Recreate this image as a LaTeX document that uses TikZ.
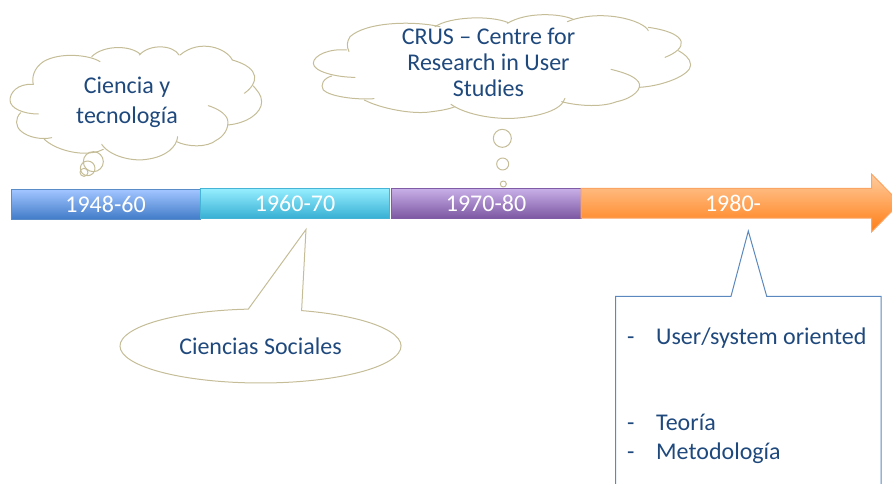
\documentclass[tikz,border=0pt]{standalone}
\usepackage{fontspec}
\setmainfont{Carlito}
\definecolor{tan}{HTML}{C4BD97}
\definecolor{ink}{HTML}{1F497D}
\definecolor{boxline}{HTML}{5B88BE}
\tikzset{
  cloudline/.style={draw=tan,line width=1pt,line join=round,line cap=round},
  barlabel/.style={text=white,font=\fontsize{24}{28}\selectfont,inner sep=0pt},
  inklabel/.style={text=ink,align=center,inner sep=0pt},
  listlabel/.style={text=ink,anchor=base west,font=\fontsize{24}{28}\selectfont,inner sep=0pt},
}
\begin{document}
\begin{tikzpicture}[x=1pt,y=1pt,yscale=-1]
\useasboundingbox (0,0) rectangle (892,484);
\begin{scope}
\clip (0,0) rectangle (892,484);
% timeline bars
\path[top color={rgb,255:red,160;green,196;blue,255},bottom color={rgb,255:red,66;green,124;blue,200},draw={rgb,255:red,90;green,140;blue,200},line width=1pt]
  (11,190) rectangle (200.5,219);
\path[top color={rgb,255:red,150;green,238;blue,255},bottom color={rgb,255:red,56;green,176;blue,212},draw={rgb,255:red,70;green,180;blue,212},line width=1pt]
  (200.5,188.5) rectangle (389.5,218);
\path[top color={rgb,255:red,200;green,176;blue,232},bottom color={rgb,255:red,124;green,86;blue,162},draw={rgb,255:red,128;green,92;blue,166},line width=1pt]
  (391,188.5) rectangle (581,218.5);
\path[top color={rgb,255:red,255;green,205;blue,160},bottom color={rgb,255:red,255;green,125;blue,20},draw={rgb,255:red,250;green,165;blue,100},line width=1pt]
  (581,188.5) -- (871.5,188.5) -- (871.5,174) -- (900,203) -- (871.5,232) -- (871.5,218) -- (581,218) -- cycle;
% rectangular callout
\draw[boxline,line width=1pt,line join=miter]
  (615.7,490) -- (615.7,296.3) -- (731,296.3) -- (748.3,231) -- (766.7,296.3) -- (881,296.3) -- (881,490);
\end{scope}
% oval callout
\draw[cloudline,line join=miter] (301.6,310.6) arc[start angle=-73,end angle=265,x radius=140.5,y radius=37] -- (306,229.5) -- cycle;
% first cloud
\begin{scope}[shift={(0,40)},scale=1/3]
\draw[cloudline] (100,133) .. controls (50,130) and (30,160) .. (30,180) .. controls (30,205) and (70,222) .. (115,222);
\draw[cloudline] (62,218) .. controls (45,235) and (45,260) .. (65,275) .. controls (85,292) and (125,300) .. (155,293);
\draw[cloudline] (133,298) .. controls (165,328) and (230,345) .. (275,338) .. controls (290,336) and (300,334) .. (310,328);
\draw[cloudline] (305,313) .. controls (330,350) and (400,365) .. (440,358) .. controls (500,350) and (530,320) .. (533,290);
\draw[cloudline] (530,305) .. controls (560,320) and (620,325) .. (650,300) .. controls (670,290) and (688,265) .. (683,240) .. controls (678,220) and (650,205) .. (625,197);
\draw[cloudline] (683,255) .. controls (740,250) and (785,220) .. (785,185) .. controls (785,165) and (770,150) .. (760,138);
\draw[cloudline] (733,160) .. controls (775,130) and (785,85) .. (697,60);
\draw[cloudline] (697,60) .. controls (680,25) and (600,-5) .. (540,45);
\draw[cloudline] (537,45) .. controls (520,15) and (450,10) .. (418,45);
\draw[cloudline] (420,42) .. controls (390,15) and (310,15) .. (275,50);
\draw[cloudline] (300,65) .. controls (270,45) and (180,35) .. (130,65) .. controls (100,85) and (95,115) .. (100,133);
\draw[cloudline] (280,365) circle[radius=30];
\draw[cloudline] (263,385) circle[radius=22];
\draw[cloudline] (252,397) circle[radius=12];
\end{scope}
% second cloud
\begin{scope}[shift={(300,0)},scale=1/3]
\draw[cloudline] (140,150) .. controls (90,145) and (40,165) .. (40,190) .. controls (40,215) and (110,232) .. (165,232);
\draw[cloudline] (95,228) .. controls (70,235) and (60,255) .. (70,270) .. controls (90,290) and (170,300) .. (222,296);
\draw[cloudline] (193,300) .. controls (240,325) and (340,345) .. (395,335) .. controls (420,332) and (445,328) .. (465,320);
\draw[cloudline] (453,313) .. controls (490,340) and (570,358) .. (640,355) .. controls (720,350) and (785,330) .. (795,295);
\draw[cloudline] (785,305) .. controls (820,315) and (900,325) .. (950,305) .. controls (1000,295) and (1030,265) .. (1015,245) .. controls (1000,225) and (960,215) .. (933,208);
\draw[cloudline] (1018,262) .. controls (1090,258) and (1172,225) .. (1172,195) .. controls (1172,175) and (1150,160) .. (1135,152);
\draw[cloudline] (1095,172) .. controls (1165,145) and (1170,100) .. (1045,82);
\draw[cloudline] (1045,92) .. controls (1030,60) and (900,25) .. (802,65);
\draw[cloudline] (820,58) .. controls (780,40) and (680,35) .. (622,70);
\draw[cloudline] (625,68) .. controls (570,45) and (450,50) .. (405,80);
\draw[cloudline] (420,80) .. controls (340,62) and (200,65) .. (150,110) .. controls (140,125) and (140,140) .. (147,155);
\draw[cloudline] (607,415) circle[radius=27];
\draw[cloudline] (608,492) circle[radius=18];
\draw[cloudline] (610,552) circle[radius=9];
\end{scope}
% labels
\node[barlabel] (b1) at (105.5,204.5) {1948-60};
\node[barlabel] (b2) at (295,203.5) {1960-70};
\node[barlabel] (b3) at (486,203.5) {1970-80};
\node[barlabel] (b4) at (733,203.5) {1980-};
\node[inklabel,font=\fontsize{24}{29.5}\selectfont] (c1) at (127,102.5) {Ciencia y\\tecnología};
\node[inklabel,font=\fontsize{24}{26}\selectfont] (c2) at (488.5,62) {CRUS – Centre for\\Research in User\\Studies};
\node[inklabel,font=\fontsize{24}{26}\selectfont] (c3) at (260.5,346.5) {Ciencias Sociales};
\node[listlabel] (d1) at (627,344) {-};
\node[listlabel] (l1) at (656,344) {User/system oriented};
\node[listlabel] (d2) at (627,430) {-};
\node[listlabel] (l2) at (656,430) {Teoría};
\node[listlabel] (d3) at (627,459) {-};
\node[listlabel] (l3) at (656,459) {Metodología};
\end{tikzpicture}
\end{document}
